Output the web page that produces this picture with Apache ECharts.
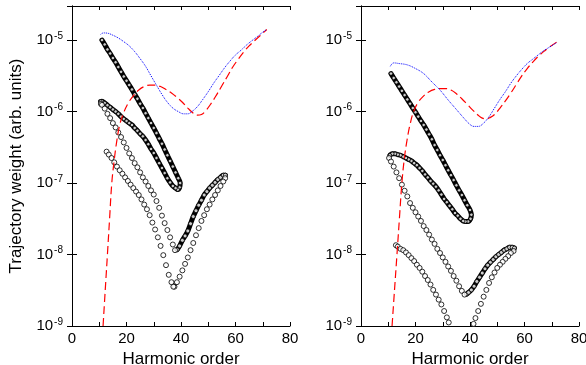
<!DOCTYPE html>
<html>
<head>
<meta charset="utf-8">
<script src="https://cdn.jsdelivr.net/npm/echarts@6/dist/echarts.min.js"></script>
<style>html,body{margin:0;background:#fff}#c{width:586px;height:365px}</style>
</head>
<body>
<div id="c"></div>
<script>
// [harmonic order, trajectory weight]

// left panel
const leftBlue = [[10.5,1.2e-5],[11.5,1.26e-5],[13,1.25e-5],[15,1.17e-5],[17,1.07e-5],[19,9.5e-6],[21,8.3e-6],[23,6.9e-6],[25,5.5e-6],[27,4.3e-6],[29,3.16e-6],[31,2.34e-6],[33,1.74e-6],[35,1.35e-6],[37,1.12e-6],[39,1.0e-6],[41,9.3e-7],[42.5,9.3e-7],[44,1.0e-6],[46,1.17e-6],[48,1.48e-6],[50,1.9e-6],[52,2.5e-6],[54,3.2e-6],[56,4.1e-6],[58,5.1e-6],[60,6.2e-6],[62,7.2e-6],[64,8.5e-6],[66,9.8e-6],[68,1.12e-5],[70,1.29e-5],[71.5,1.41e-5]];
const leftRed = [[11.4,1.0e-9],[12.2,3.2e-9],[13,1.0e-8],[13.8,3.2e-8],[14.6,1.0e-7],[15.5,2.1e-7],[16.4,3.8e-7],[17.5,6.5e-7],[18.8,9.3e-7],[20.5,1.29e-6],[22.5,1.66e-6],[24.5,2.0e-6],[26.5,2.24e-6],[28.5,2.34e-6],[30.5,2.34e-6],[32.5,2.24e-6],[34.5,2.04e-6],[36.5,1.82e-6],[38.5,1.58e-6],[40.5,1.35e-6],[42.5,1.12e-6],[44.5,9.5e-7],[46,8.9e-7],[47.5,9.1e-7],[49,1.02e-6],[51,1.29e-6],[53,1.7e-6],[55,2.3e-6],[57,3.1e-6],[59,4.2e-6],[61,5.4e-6],[63,6.8e-6],[65,8.3e-6],[67,9.8e-6],[69,1.15e-5],[71.5,1.41e-5]];
const leftA = [[11,1.0e-5],[12,8.7e-6],[13,7.4e-6],[14,6.5e-6],[15,5.6e-6],[16,4.9e-6],[17,4.2e-6],[18,3.6e-6],[19,3.1e-6],[20,2.7e-6],[21,2.35e-6],[22,2.04e-6],[23,1.74e-6],[24,1.51e-6],[25,1.29e-6],[26,1.12e-6],[27,9.5e-7],[28,8.1e-7],[29,6.9e-7],[30,5.9e-7],[31,5.0e-7],[32,4.2e-7],[33,3.55e-7],[34,2.95e-7],[35,2.45e-7],[36,2.04e-7],[37,1.7e-7],[38,1.41e-7],[39,1.17e-7],[39.7,1.0e-7],[39.5,8.7e-8],[38.8,8.1e-8]];
const leftB = [[38,8.5e-8],[37,9.1e-8],[36,1.02e-7],[35,1.17e-7],[34,1.38e-7],[33,1.62e-7],[32,1.9e-7],[31,2.24e-7],[30,2.63e-7],[29,3.0e-7],[28,3.5e-7],[27,4.0e-7],[26,4.5e-7],[25,4.9e-7],[24,5.4e-7],[23,5.9e-7],[22,6.5e-7],[21,6.9e-7],[20,7.4e-7],[19,7.9e-7],[18,8.5e-7],[17,9.3e-7],[16,1.0e-6],[15,1.07e-6],[14,1.15e-6],[13,1.23e-6],[12,1.32e-6],[11,1.4e-6],[10.5,1.38e-6]];
const leftC = [[10.6,1.28e-6],[11,1.24e-6],[12,1.1e-6],[13,9.3e-7],[14,8.1e-7],[15,6.9e-7],[16,6.0e-7],[17,5.1e-7],[18,4.4e-7],[19,3.7e-7],[20,3.1e-7],[21,2.6e-7],[22,2.24e-7],[23,1.9e-7],[24,1.66e-7],[25,1.41e-7],[26,1.2e-7],[27,1.05e-7],[28,9.1e-8],[29,7.9e-8],[30,6.9e-8],[31,5.6e-8],[32,4.5e-8],[33,3.5e-8],[34,2.75e-8],[35,2.2e-8],[36,1.74e-8],[37,1.38e-8],[37.8,1.15e-8]];
const leftD = [[38.6,1.17e-8],[39.5,1.32e-8],[40.5,1.58e-8],[41.5,1.82e-8],[42.5,2.14e-8],[43.5,2.7e-8],[44.5,3.4e-8],[45.5,4.1e-8],[46.5,4.9e-8],[47.5,5.75e-8],[48.5,6.8e-8],[49.5,7.6e-8],[50.5,8.5e-8],[51.5,9.3e-8],[52.5,1.02e-7],[53.5,1.12e-7],[54.5,1.2e-7],[55.5,1.29e-7],[56.3,1.29e-7]];
const leftE = [[56.2,1.17e-7],[55.5,1.05e-7],[54.5,9.1e-8],[53.5,7.9e-8],[52.5,6.8e-8],[51.5,5.9e-8],[50.5,5.0e-8],[49.5,4.3e-8],[48.5,3.55e-8],[47.5,2.95e-8],[46.5,2.34e-8],[45.5,1.86e-8],[44.5,1.45e-8],[43.5,1.15e-8],[42.5,9.1e-9],[41.5,7.4e-9],[40.5,6.0e-9],[39.5,4.9e-9],[38.5,4.1e-9],[37.6,3.55e-9]];
const leftF = [[12.7,2.75e-7],[13.5,2.5e-7],[14.5,2.24e-7],[15.5,1.95e-7],[16.5,1.7e-7],[17.5,1.51e-7],[18.5,1.35e-7],[19.5,1.2e-7],[20.5,1.07e-7],[21.5,9.5e-8],[22.5,8.5e-8],[23.5,7.6e-8],[24.5,6.8e-8],[25.5,5.9e-8],[26.5,5.0e-8],[27.5,4.3e-8],[28.5,3.55e-8],[29.5,2.8e-8],[30.5,2.24e-8],[31.5,1.74e-8],[32.5,1.32e-8],[33.5,9.8e-9],[34.5,7.1e-9],[35.5,5.2e-9],[36.5,4.1e-9],[37.2,3.55e-9]];

// right panel
const rightBlue = [[10.75,4.3e-6],[12,4.8e-6],[14,4.7e-6],[17,4.5e-6],[20,4.0e-6],[23,3.4e-6],[26,2.6e-6],[29,2.0e-6],[32,1.45e-6],[35,1.07e-6],[38,7.9e-7],[40,6.6e-7],[41.5,6.2e-7],[43,6.2e-7],[45,6.9e-7],[47,8.5e-7],[49,1.12e-6],[51,1.48e-6],[53,1.9e-6],[55,2.5e-6],[57,3.16e-6],[59,3.9e-6],[61,4.7e-6],[63,5.4e-6],[65,6.2e-6],[67,7.1e-6],[69,7.9e-6],[72,9.3e-6]];
const rightRed = [[11.4,1.0e-9],[12.3,3.2e-9],[13.2,1.0e-8],[14.1,3.2e-8],[15,1.0e-7],[15.9,2.2e-7],[16.9,4.0e-7],[18,6.6e-7],[19.3,1.0e-6],[21,1.35e-6],[23,1.66e-6],[25,1.9e-6],[27,2.04e-6],[29,2.1e-6],[31,2.1e-6],[33,2.0e-6],[35,1.78e-6],[37,1.51e-6],[39,1.26e-6],[41,1.05e-6],[43,8.9e-7],[44.5,8.1e-7],[46,7.9e-7],[47.5,8.3e-7],[49,9.1e-7],[51,1.12e-6],[53,1.41e-6],[55,1.82e-6],[57,2.4e-6],[59,3.16e-6],[61,4.0e-6],[63,4.9e-6],[65,5.9e-6],[67,6.9e-6],[69,7.9e-6],[72,9.5e-6]];
const rightA = [[11,3.4e-6],[12,2.95e-6],[13,2.57e-6],[14,2.24e-6],[15,1.95e-6],[16,1.7e-6],[17,1.48e-6],[18,1.29e-6],[19,1.12e-6],[20,9.8e-7],[21,8.5e-7],[22,7.4e-7],[23,6.5e-7],[24,5.6e-7],[25,4.8e-7],[26,4.1e-7],[27,3.4e-7],[28,2.9e-7],[29,2.45e-7],[30,2.1e-7],[31,1.78e-7],[32,1.51e-7],[33,1.29e-7],[34,1.1e-7],[35,9.3e-8],[36,7.9e-8],[37,6.8e-8],[38,5.75e-8],[39,4.9e-8],[40,4.2e-8],[40.5,3.6e-8],[40.2,3.16e-8],[39.3,2.9e-8]];
const rightB = [[38.3,2.9e-8],[37.5,2.95e-8],[36.5,3.16e-8],[35.5,3.5e-8],[34.5,3.8e-8],[33.5,4.3e-8],[32.5,4.8e-8],[31.5,5.4e-8],[30.5,6.0e-8],[29.5,6.9e-8],[28.5,7.9e-8],[27.5,8.9e-8],[26.5,9.8e-8],[25.5,1.07e-7],[24.5,1.2e-7],[23.5,1.32e-7],[22.5,1.48e-7],[21.5,1.62e-7],[20.5,1.78e-7],[19.5,1.9e-7],[18.5,2.04e-7],[17.5,2.14e-7],[16.5,2.24e-7],[15.5,2.34e-7],[14.5,2.45e-7],[13.5,2.5e-7],[12.5,2.57e-7],[11.5,2.57e-7],[10.6,2.45e-7]];
const rightC = [[10.3,2.24e-7],[11,2.0e-7],[12,1.7e-7],[13,1.41e-7],[14,1.17e-7],[15,9.5e-8],[16,7.8e-8],[17,6.5e-8],[18,5.25e-8],[19,4.5e-8],[20,3.9e-8],[21,3.4e-8],[22,2.95e-8],[23,2.5e-8],[24,2.2e-8],[25,1.9e-8],[26,1.62e-8],[27,1.41e-8],[28,1.2e-8],[29,1.05e-8],[30,9.1e-9],[31,7.9e-9],[32,6.8e-9],[33,5.9e-9],[34,5.0e-9],[35,4.3e-9],[36,3.6e-9],[37,3.1e-9],[38,2.75e-9]];
const rightD = [[38.8,2.8e-9],[39.5,2.95e-9],[40.5,3.2e-9],[41.5,3.6e-9],[42.5,4.2e-9],[43.5,4.8e-9],[44.5,5.5e-9],[45.5,6.3e-9],[46.5,7.1e-9],[47.5,7.8e-9],[48.5,8.5e-9],[49.5,9.3e-9],[50.5,1.0e-8],[51.5,1.07e-8],[52.5,1.15e-8],[53.5,1.2e-8],[54.5,1.26e-8],[55.5,1.26e-8],[56.3,1.23e-8]];
const rightE = [[56,1.12e-8],[55,1.05e-8],[54,9.5e-9],[53,8.7e-9],[52,7.9e-9],[51,7.2e-9],[50,6.5e-9],[49,5.6e-9],[48,4.8e-9],[47,4.0e-9],[46,3.2e-9],[45,2.57e-9],[44,2.04e-9],[43,1.62e-9],[42,1.29e-9],[41.3,1.07e-9]];
const rightF = [[12.8,1.35e-8],[13.5,1.29e-8],[14.5,1.2e-8],[15.5,1.15e-8],[16.5,1.07e-8],[17.5,9.8e-9],[18.5,8.9e-9],[19.5,8.1e-9],[20.5,7.2e-9],[21.5,6.5e-9],[22.5,5.75e-9],[23.5,5.0e-9],[24.5,4.4e-9],[25.5,3.8e-9],[26.5,3.2e-9],[27.5,2.75e-9],[28.5,2.34e-9],[29.5,2.0e-9],[30.5,1.62e-9],[31.5,1.32e-9],[32.2,1.12e-9]];

const xMin = 0, xMax = 80, xStep = 20;
const yMin = 1e-9, yMax = 3e-5;

const FONT = "Liberation Sans";
const chart = echarts.init(document.getElementById("c"), null, { renderer: "canvas" });

// 10^n labels at whole decades only
function decadeLabel(v) {
  const e = Math.log10(v);
  const n = Math.round(e);
  if (Math.abs(e - n) > 0.01 || n > -5) return "";
  return "{b|10}{s|" + n + "}";
}

const grids = [
  { left: 72, top: 6, width: 218, height: 320, outerBoundsMode: "none", containLabel: false },
  { left: 361, top: 6, width: 218, height: 320, outerBoundsMode: "none", containLabel: false },
];

const xAxes = [];
const yAxes = [];
grids.forEach((g, i) => {
  const common = { gridIndex: i, type: "value", min: xMin, max: xMax, interval: xStep,
    axisLine: { lineStyle: { color: "#000", width: 1 } },
    axisTick: { inside: true, length: 4, lineStyle: { color: "#000" } },
    minorTick: { show: true, splitNumber: 2, length: 4, lineStyle: { color: "#000" } },
    splitLine: { show: false } };
  xAxes.push({ ...common, position: "bottom",
    name: "Harmonic order", nameLocation: "middle", nameGap: 22,
    nameTextStyle: { fontFamily: FONT, fontSize: 17, color: "#000" },
    axisLabel: { fontFamily: FONT, fontSize: 15, color: "#000", margin: 5 } });
  xAxes.push({ ...common, position: "top", axisLabel: { show: false } });

  const ycommon = { gridIndex: i, type: "log", logBase: 10, min: yMin, max: yMax,
    axisLine: { lineStyle: { color: "#000", width: 1 } },
    axisTick: { inside: true, length: 5, lineStyle: { color: "#000" } },
    splitLine: { show: false }, minorTick: { show: false } };
  yAxes.push({ ...ycommon, position: "left",
    name: i === 0 ? "Trajectory weight (arb. units)" : "",
    nameLocation: "middle", nameGap: 47,
    nameTextStyle: { fontFamily: FONT, fontSize: 17, color: "#000" },
    axisLabel: { formatter: decadeLabel, margin: 9, fontFamily: FONT, color: "#000",
      rich: {
        b: { fontFamily: FONT, fontSize: 15, color: "#000", lineHeight: 18 },
        s: { fontFamily: FONT, fontSize: 10, color: "#000", verticalAlign: "top", lineHeight: 10, padding: [0, 0, 8, 1] },
      } } });
  yAxes.push({ ...ycommon, position: "right", axisLabel: { show: false } });
});

function panelSeries(i, d) {
  const xi = i * 2, yi = i * 2;
  const band = (data) => ({ type: "line", xAxisIndex: xi, yAxisIndex: yi, data, showSymbol: false,
    smooth: 0.3, silent: true, z: 1, lineStyle: { color: "#000", width: 5, cap: "round", join: "round" } });
  const dots = (data, size) => ({ type: "scatter", xAxisIndex: xi, yAxisIndex: yi, data, symbol: "circle",
    symbolSize: size, silent: true, z: 2, itemStyle: { color: "#fff", borderColor: "#000", borderWidth: 1 } });
  return [
    band(d.A.concat(d.B)),
    dots(d.A, 3.5), dots(d.B, 3.5),
    band(d.D),
    dots(d.D, 4),
    dots(d.C, 5), dots(d.E, 5), dots(d.F, 5),
    { type: "line", xAxisIndex: xi, yAxisIndex: yi, data: d.red, showSymbol: false, smooth: 0.4, z: 5,
      lineStyle: { color: "#ff0000", width: 1.2, type: [8, 4] } },
    { type: "line", xAxisIndex: xi, yAxisIndex: yi, data: d.blue, showSymbol: false, smooth: 0.4, z: 6,
      lineStyle: { color: "#0000ff", width: 1, type: [1, 1] } },
  ];
}

const series = [
  ...panelSeries(0, { A: leftA, B: leftB, C: leftC, D: leftD, E: leftE, F: leftF, red: leftRed, blue: leftBlue }),
  ...panelSeries(1, { A: rightA, B: rightB, C: rightC, D: rightD, E: rightE, F: rightF, red: rightRed, blue: rightBlue }),
];

chart.setOption({
  animation: false,
  backgroundColor: "#fff",
  grid: grids,
  xAxis: xAxes,
  yAxis: yAxes,
  series,
});
</script>
</body>
</html>
